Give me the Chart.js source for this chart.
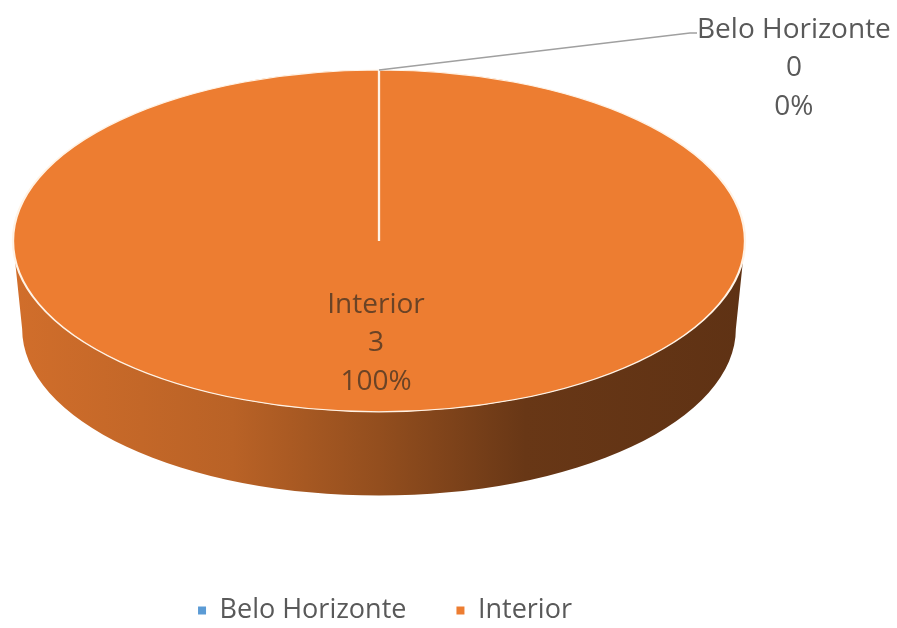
<!DOCTYPE html>
<html>
<head>
<meta charset="utf-8">
<script src="https://cdn.jsdelivr.net/npm/chart.js@4"></script>
<style>
  html, body { margin: 0; padding: 0; background: #fff; }
  #caixa { width: 897px; height: 628px; }
</style>
</head>
<body>
<div id="caixa"><canvas id="grafico"></canvas></div>
<script>
// dados
const categorias = ['Belo Horizonte', 'Interior'];
const valores = [0, 3];
const cores = ['#5B9BD5', '#ED7D31'];

const fonte = '"Open Sans", sans-serif';
const inclinacao = 0.467;   // ry / rx do topo
const espessura = 88;       // altura da lateral
const fundo = 0.975;        // base um pouco menor (perspectiva)
const corTexto = '#595959';

function escurecer(hex, f) {
  const n = parseInt(hex.slice(1), 16);
  const r = Math.round(((n >> 16) & 255) * f);
  const g = Math.round(((n >> 8) & 255) * f);
  const b = Math.round((n & 255) * f);
  return `rgb(${r}, ${g}, ${b})`;
}

function geometria(chart) {
  const area = chart.chartArea;
  const arco = chart.getDatasetMeta(0).data[0];
  const rx = (area.right - area.left) / 2;
  const ry = rx * inclinacao;
  return { cx: arco.x, cy: arco.y, r: arco.outerRadius, x0: arco.x, y0: area.top + ry, rx: rx, ry: ry };
}

function projetar(g, px, py) {
  return { x: g.x0 + (px - g.cx) * g.rx / g.r, y: g.y0 + (py - g.cy) * g.ry / g.r };
}

// lateral 3D + achatamento do topo
const pizza3d = {
  id: 'pizza3d',
  afterLayout(chart) {
    chart.legend.left += 6;
    chart.legend.right += 6;
  },
  beforeDatasetsDraw(chart) {
    const ctx = chart.ctx;
    const g = geometria(chart);
    const meta = chart.getDatasetMeta(0);
    meta.data.forEach((arc, i) => {
      [-2 * Math.PI, 0, 2 * Math.PI].forEach(k => {
        const a0 = Math.max(arc.startAngle + k, 0);
        const a1 = Math.min(arc.endAngle + k, Math.PI);
        if (a1 <= a0) return;
        const grad = ctx.createLinearGradient(g.x0 - g.rx, 0, g.x0 + g.rx, 0);
        grad.addColorStop(0, escurecer(cores[i], 0.88));
        grad.addColorStop(0.3, escurecer(cores[i], 0.78));
        grad.addColorStop(0.5, escurecer(cores[i], 0.62));
        grad.addColorStop(0.7, escurecer(cores[i], 0.44));
        grad.addColorStop(1, escurecer(cores[i], 0.4));
        ctx.save();
        ctx.beginPath();
        ctx.ellipse(g.x0, g.y0 + espessura, g.rx * fundo, g.ry * fundo, 0, a0, a1, false);
        ctx.ellipse(g.x0, g.y0, g.rx, g.ry, 0, a1, a0, true);
        ctx.closePath();
        ctx.fillStyle = grad;
        ctx.fill();
        ctx.restore();
      });
    });
    ctx.save();
    ctx.translate(g.x0, g.y0);
    ctx.scale(g.rx / g.r, g.ry / g.r);
    ctx.translate(-g.cx, -g.cy);
  },
  afterDatasetsDraw(chart) {
    chart.ctx.restore();
  }
};

// rotulos de dados
const rotulos = {
  id: 'rotulos',
  afterDraw(chart) {
    const ctx = chart.ctx;
    const g = geometria(chart);
    const meta = chart.getDatasetMeta(0);
    const total = valores.reduce((a, b) => a + b, 0);
    ctx.save();
    ctx.font = `28px ${fonte}`;
    ctx.textAlign = 'center';
    ctx.textBaseline = 'middle';
    const lh = 38.5;
    meta.data.forEach((arc, i) => {
      const pct = Math.round(valores[i] / total * 100);
      const linhas = [categorias[i], String(valores[i]), pct + '%'];
      if (pct >= 5) {
        const c = arc.tooltipPosition();
        const p = projetar(g, c.x, c.y);
        ctx.fillStyle = '#6a4326';
        linhas.forEach((t, j) => ctx.fillText(t, p.x - 3, p.y + 17 + (j - 1) * lh));
      } else {
        const a = arc.startAngle;
        const p = projetar(g, g.cx + g.r * Math.cos(a), g.cy + g.r * Math.sin(a));
        const cotovelo = { x: p.x + 311, y: p.y - 37 };
        const fim = { x: cotovelo.x + 7, y: cotovelo.y };
        ctx.strokeStyle = '#a0a0a0';
        ctx.lineWidth = 1.5;
        ctx.beginPath();
        ctx.moveTo(p.x, p.y);
        ctx.lineTo(cotovelo.x, cotovelo.y);
        ctx.lineTo(fim.x, fim.y);
        ctx.stroke();
        const w = ctx.measureText(linhas[0]).width;
        const tx = fim.x + w / 2;
        ctx.fillStyle = corTexto;
        linhas.forEach((t, j) => ctx.fillText(t, tx, fim.y - 3 + j * lh));
      }
    });
    ctx.restore();
  }
};

const grafico = new Chart(document.getElementById('grafico'), {
  type: 'pie',
  data: {
    labels: categorias,
    datasets: [{
      data: valores,
      backgroundColor: cores,
      borderColor: '#fff3e6',
      borderWidth: 1.5
    }]
  },
  options: {
    responsive: true,
    maintainAspectRatio: false,
    animation: false,
    events: [],
    layout: { padding: { left: 13, right: 152, top: 70, bottom: -6 } },
    plugins: {
      tooltip: { enabled: false },
      legend: {
        position: 'bottom',
        labels: {
          boxWidth: 8,
          boxHeight: 8,
          padding: 50,
          color: corTexto,
          font: { family: fonte, size: 27 },
          filter(item) {
            item.lineWidth = 0;
            return true;
          }
        }
      }
    }
  },
  plugins: [pizza3d, rotulos]
});
</script>
</body>
</html>
